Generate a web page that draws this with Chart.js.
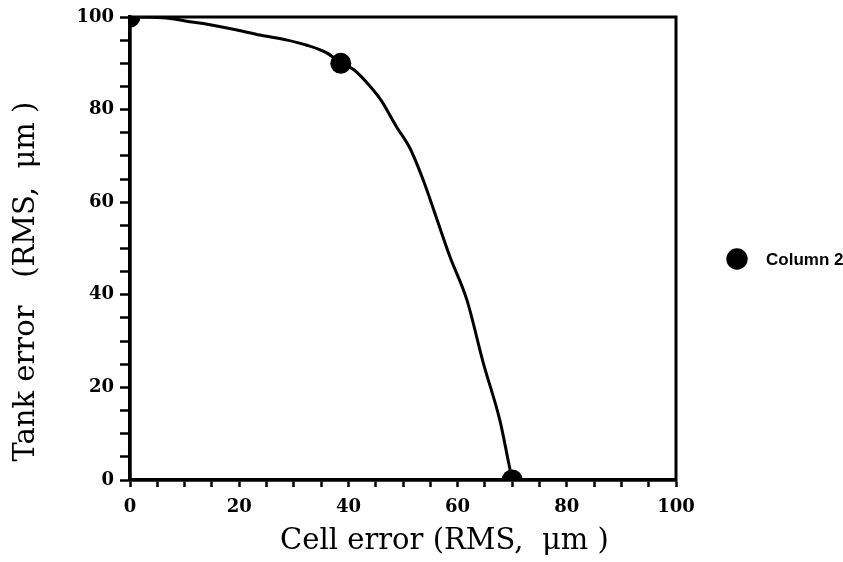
<!DOCTYPE html>
<html><head><meta charset="utf-8">
<script src="https://cdn.jsdelivr.net/npm/chart.js@4/dist/chart.umd.min.js"></script>
<style>html,body{margin:0;padding:0;background:#fff}#c{display:block}</style>
</head><body>
<canvas id="c" width="843" height="562"></canvas>
<script>
// Smooth curve
const curveX = [0, 3.5, 7.3, 10.4, 13.4, 19.6, 23.8, 28.8, 32.4, 36.1, 38.6, 41, 44, 46, 48.8, 51.3, 53.7, 55, 58.6, 61.7, 64.7, 67.8, 69.3, 70];
const curveY = [100, 99.95, 99.7, 99.1, 98.6, 97.2, 96.1, 95, 93.9, 92.2, 90.1, 88.6, 85, 82, 76.3, 71.6, 64.8, 60.5, 48.2, 38.9, 25.3, 12.6, 4, 0];
// Marked data points
const markerX = [0, 38.6, 70];
const markerY = [100, 90, 0];
const seriesName = 'Column 2';
const xTickLabels = [0, 20, 40, 60, 80, 100];
const yTickLabels = [0, 20, 40, 60, 80, 100];
const xTitle = '         Cell error (RMS,  \u03bcm )';
const yTitle = '  Tank error   (RMS,  \u03bcm )';

const curvePts = curveX.map((x, i) => ({x, y: curveY[i]}));
const markerPts = markerX.map((x, i) => ({x, y: markerY[i]}));

const tickFont = {family: 'DejaVu Serif', size: 18, weight: 'bold'};
const titleFont = {family: 'DejaVu Serif', size: 29, weight: 'normal'};

const framePlugin = {
  id: 'frame',
  afterDatasetsDraw(chart) {
    const {ctx, chartArea: a} = chart;
    ctx.save();
    ctx.strokeStyle = '#000';
    ctx.lineWidth = 3;
    ctx.strokeRect(a.left, a.top, a.right - a.left, a.bottom - a.top);
    ctx.restore();
  }
};
const legendPlugin = {
  id: 'sideLegend',
  afterDraw(chart) {
    const {ctx, chartArea: a} = chart;
    const cx = a.right + 61, cy = 259;
    ctx.save();
    ctx.fillStyle = '#000';
    ctx.beginPath();
    ctx.arc(cx, cy, 10.7, 0, Math.PI * 2);
    ctx.fill();
    ctx.font = 'bold 17px "Liberation Sans", Arial, sans-serif';
    ctx.textBaseline = 'middle';
    ctx.textAlign = 'left';
    ctx.fillText(seriesName, cx + 29, cy + 1);
    ctx.restore();
  }
};

function axis(labels, isX) {
  return {
    type: 'linear',
    min: 0, max: 100,
    afterFit(s) { if (isX) s.height = 82; else s.width = 130; },
    afterBuildTicks(s) {
      const t = [];
      for (let v = 0; v <= 100; v += 5) t.push({value: v});
      s.ticks = t;
    },
    ticks: {
      autoSkip: false,
      maxRotation: 0,
      color: '#000',
      font: tickFont,
      padding: isX ? 10 : 6,
      callback: v => labels.includes(v) ? String(v) : ''
    },
    grid: {
      drawOnChartArea: false,
      drawTicks: true,
      tickLength: isX ? 7 : 10,
      tickColor: '#000',
      tickWidth: 2.5
    },
    border: {display: true, color: '#000', width: 3.5},
    title: {
      display: true,
      text: isX ? xTitle : yTitle,
      color: '#000',
      font: titleFont,
      align: isX ? 'center' : 'start',
      padding: isX ? {top: 0, bottom: 3} : {top: 9, bottom: 0}
    }
  };
}

new Chart(document.getElementById('c'), {
  type: 'scatter',
  data: {
    datasets: [
      {
        label: 'curve',
        data: curvePts,
        showLine: true,
        cubicInterpolationMode: 'monotone',
        borderColor: '#000',
        borderWidth: 3,
        pointRadius: 0,
        pointHoverRadius: 0,
        clip: 0
      },
      {
        label: seriesName,
        data: markerPts,
        showLine: false,
        pointStyle: 'circle',
        pointRadius: 10.5,
        backgroundColor: '#000',
        borderColor: '#000',
        borderWidth: 0,
        clip: 0
      }
    ]
  },
  options: {
    responsive: false,
    devicePixelRatio: 1,
    animation: false,
    layout: {padding: {top: 17, right: 167, left: 0, bottom: 0}},
    plugins: {legend: {display: false}, tooltip: {enabled: false}},
    scales: {x: axis(xTickLabels, true), y: axis(yTickLabels, false)}
  },
  plugins: [framePlugin, legendPlugin]
});
</script>
</body></html>
